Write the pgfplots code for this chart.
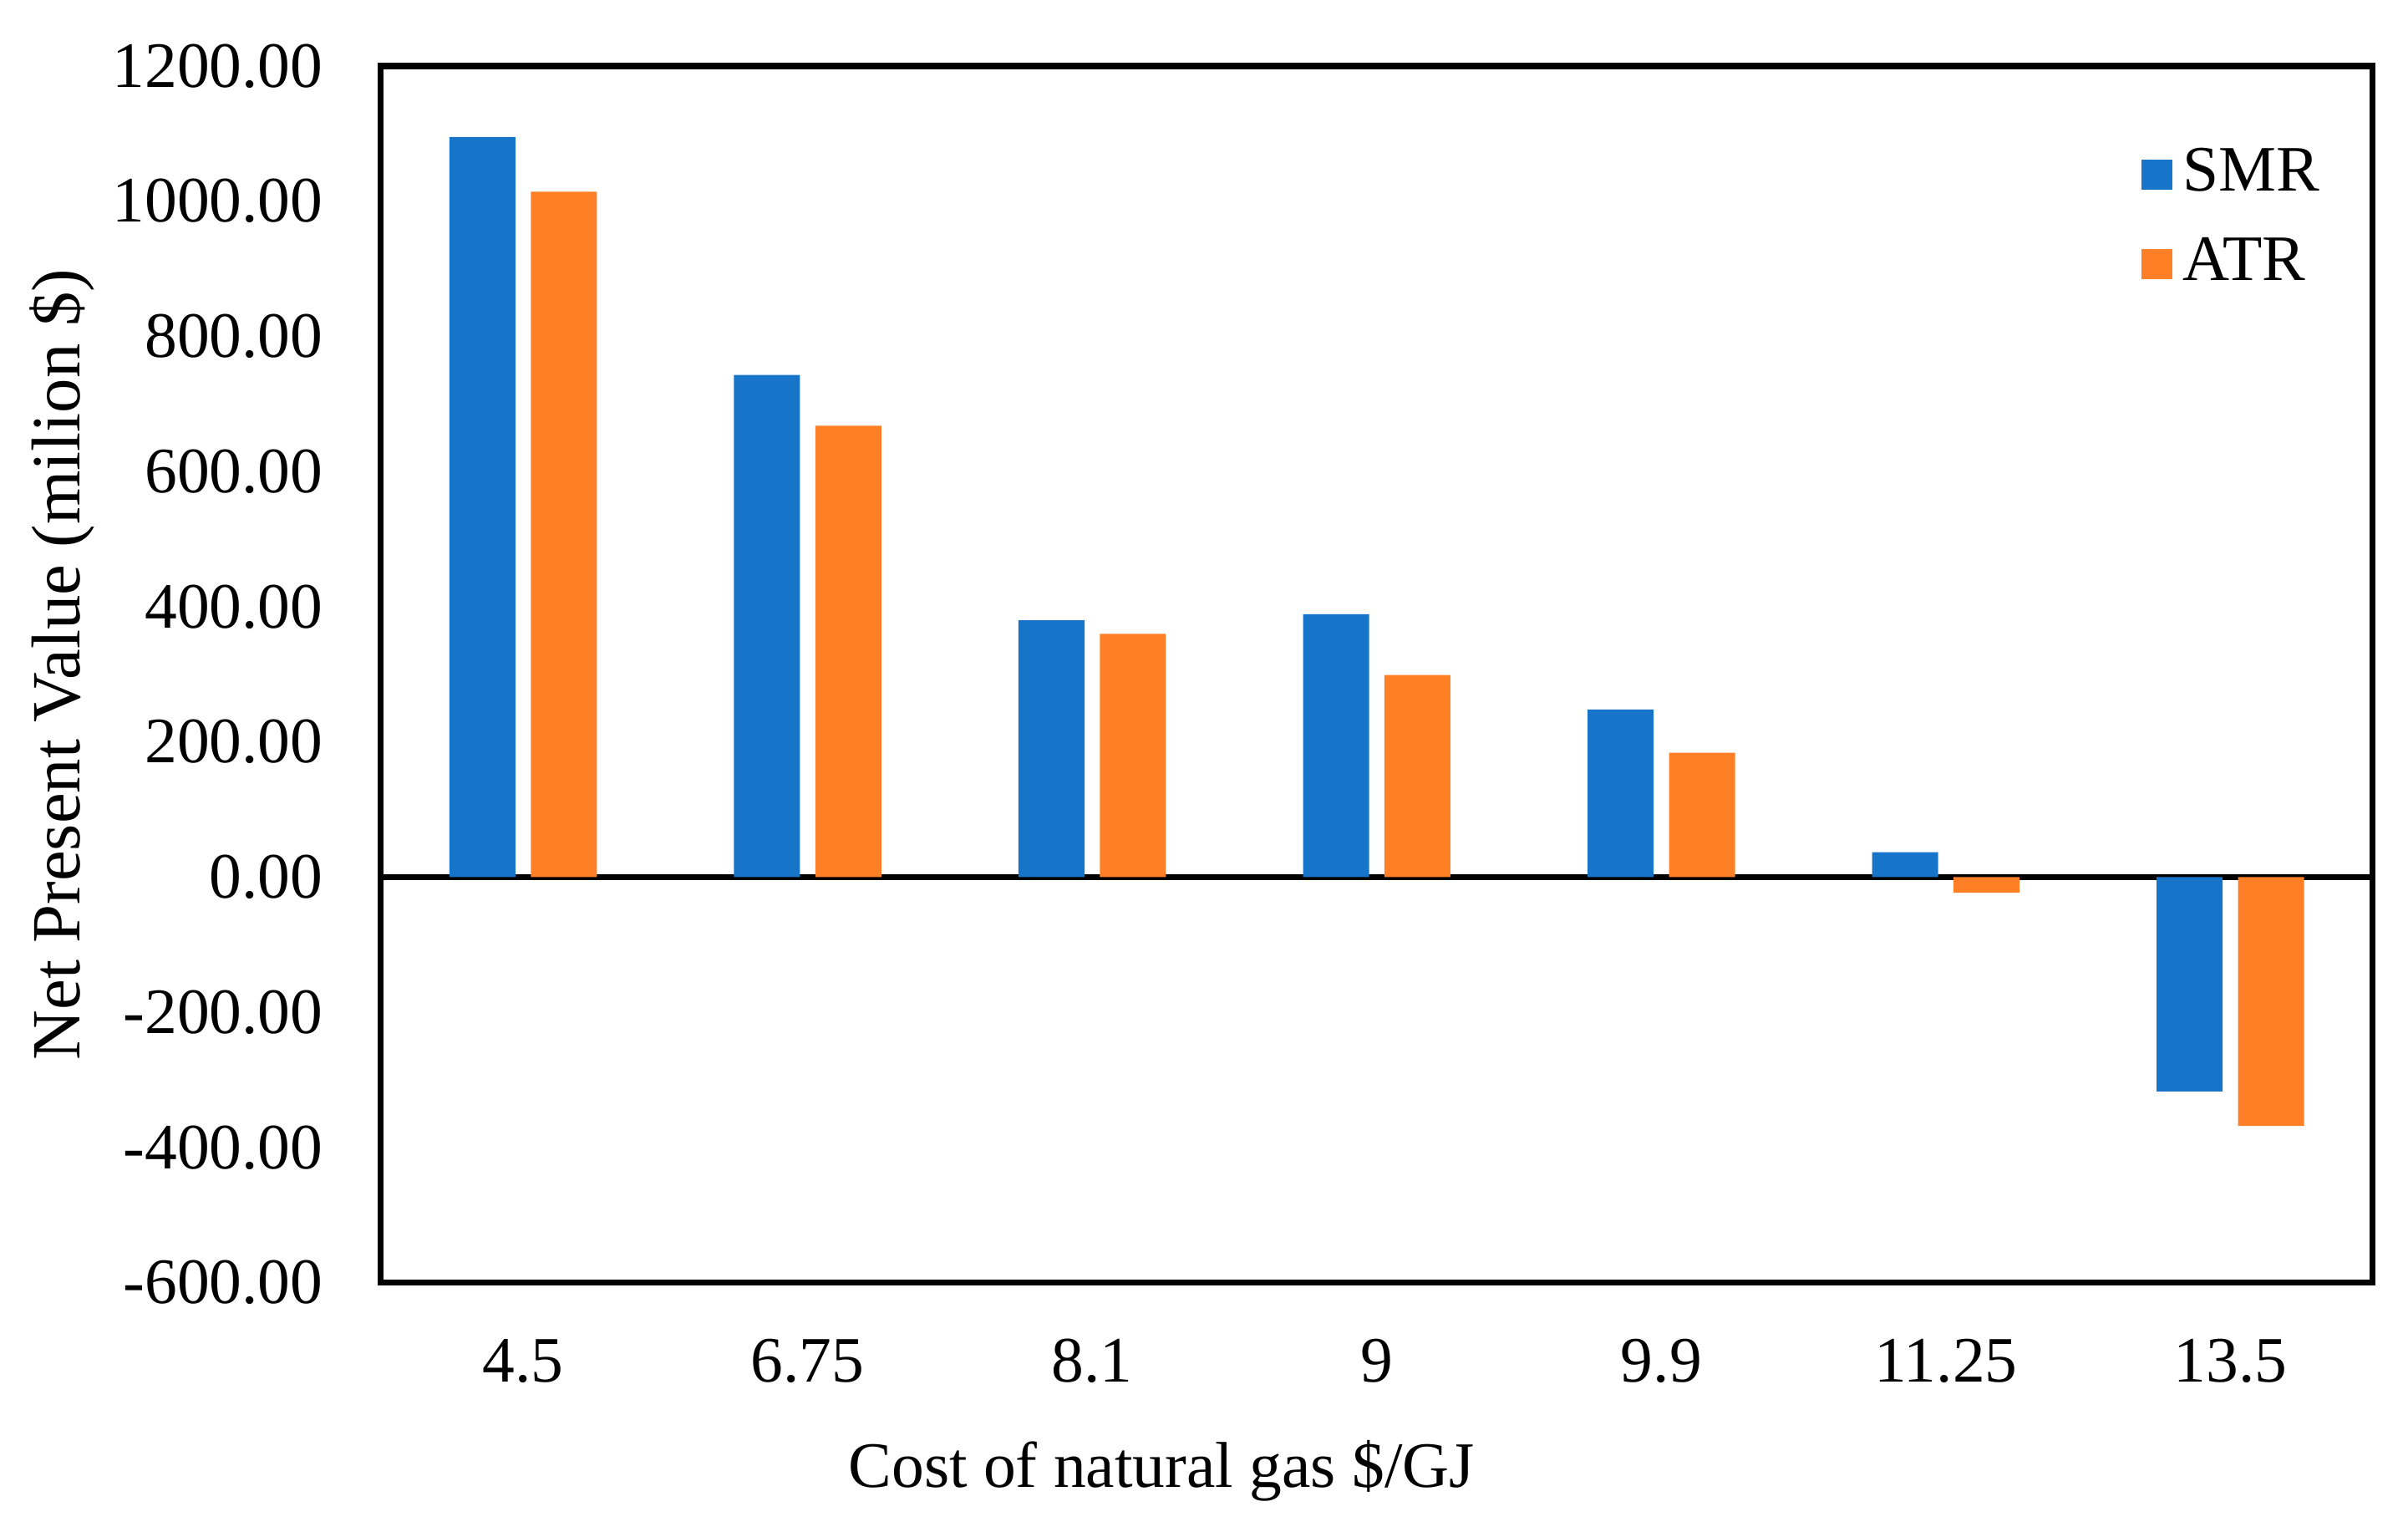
\documentclass[border=0pt]{standalone}
\usepackage{pgfplots}
\pgfplotsset{compat=1.18}
\usepackage{fontspec}
\setmainfont{Liberation Serif}
\definecolor{smr}{RGB}{24,116,201}
\definecolor{atr}{RGB}{255,127,39}
\begin{document}
\fontsize{12}{14}\selectfont
\begin{tikzpicture}
\path[use as bounding box] (-2.48,-1.59) rectangle (13.20,8.35);
\begin{axis}[
  at={(0,0)}, anchor=south west,
  scale only axis, width=12.97cm, height=7.92cm,
  ybar, bar width=0.43cm,
  xmin=-0.5, xmax=6.5, ymin=-600, ymax=1200,
  ytick={-600,-400,...,1200},
  xtick={0,...,6}, xticklabels={4.5,6.75,8.1,9,9.9,11.25,13.5},
  major tick length=0pt,
  axis line style={line width=1.1pt},
  /pgf/number format/.cd, fixed, fixed zerofill, precision=2, 1000 sep={}, assume math mode=true,
  /pgfplots/.cd,
  yticklabel style={anchor=east, xshift=-0.23cm},
  xticklabel style={yshift=-0.22cm},
  extra y ticks={0}, extra y tick labels={},
  extra y tick style={grid=major, major grid style={black, line width=1.2pt}},
  xlabel={Cost of natural gas \$/GJ},
  xlabel style={at={(axis description cs:0.392,0)}, anchor=base, yshift=-1.33cm},
  ylabel={Net Present Value (milion \$)},
  ylabel style={at={(axis description cs:-0.160,0.508)}, anchor=center, font=\fontsize{12.8}{15}\selectfont},
  legend style={draw=none, fill=none, at={(axis description cs:0.884,0.874)}, anchor=west,
    inner sep=0pt, outer sep=0pt, row sep=0.24cm, nodes={inner sep=0pt},
    /tikz/every odd column/.style={column sep=0.07cm}},
  legend cell align=left,
]
\addplot[fill=smr, draw=none, bar shift=-0.265cm,
  legend image code/.code={\fill[smr] (0cm,-0.1cm) rectangle (0.2cm,0.1cm);}]
  coordinates {(0,1095) (1,743) (2,380) (3,389) (4,248) (5,37) (6,-317)};
\addlegendentry{SMR}
\addplot[fill=atr, draw=none, bar shift=0.265cm,
  legend image code/.code={\fill[atr] (0cm,-0.1cm) rectangle (0.2cm,0.1cm);}]
  coordinates {(0,1014) (1,668) (2,360) (3,299) (4,184) (5,-23) (6,-368)};
\addlegendentry{ATR}
\end{axis}
\end{tikzpicture}
\end{document}
